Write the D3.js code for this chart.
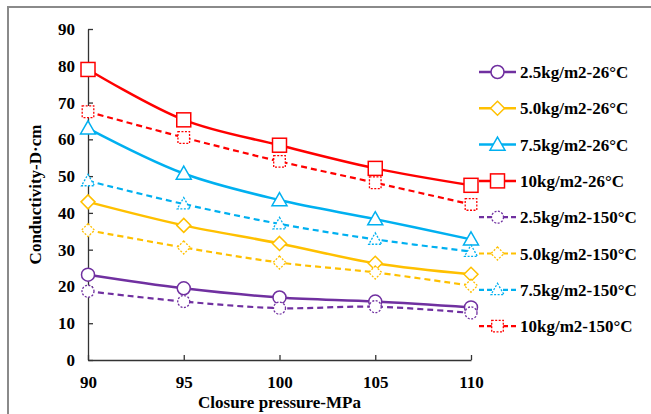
<!DOCTYPE html>
<html>
<head>
<meta charset="utf-8">
<script src="https://cdn.jsdelivr.net/npm/d3@7"></script>
<style>
  body { margin: 0; background: #fff; }
  text { font-family: "Liberation Serif", "Times New Roman", serif; font-weight: bold; fill: #000; }
</style>
</head>
<body>
<div id="chart"></div>
<script>
// closure pressure (MPa)
const pressures = [90, 95, 100, 105, 110];
const yTicks = [0, 10, 20, 30, 40, 50, 60, 70, 80, 90];

// conductivity values (D·cm)
const s25_26  = [23.2, 19.5, 17.0, 15.9, 14.3];
const s50_26  = [43.0, 36.6, 31.7, 26.3, 23.3];
const s75_26  = [63.0, 50.7, 43.5, 38.3, 32.8];
const s10_26  = [79.0, 65.3, 58.4, 52.1, 47.5];
const s25_150 = [18.7, 15.9, 14.1, 14.5, 12.8];
const s50_150 = [35.3, 30.6, 26.5, 23.8, 20.2];
const s75_150 = [48.7, 42.4, 37.0, 32.8, 29.5];
const s10_150 = [67.5, 60.5, 54.0, 48.2, 42.3];

const names = ["2.5kg/m2-26°C", "5.0kg/m2-26°C", "7.5kg/m2-26°C", "10kg/m2-26°C",
               "2.5kg/m2-150°C", "5.0kg/m2-150°C", "7.5kg/m2-150°C", "10kg/m2-150°C"];
const colors = ["#7030A0", "#FFC000", "#00B0F0", "#FF0000"];
const shapes = ["circle", "diamond", "triangle", "square"];

const series = [s25_26, s50_26, s75_26, s10_26, s25_150, s50_150, s75_150, s10_150]
  .map((vals, i) => ({
    name: names[i],
    values: vals,
    color: colors[i % 4],
    shape: shapes[i % 4],
    dashed: i >= 4
  }));

const width = 651, height = 414;
const margin = { top: 29, right: 180, bottom: 54, left: 88 };

const svg = d3.select("#chart").append("svg")
  .attr("width", width)
  .attr("height", height);

// outer frame (top and left edge only, as in the figure)
svg.append("path")
  .attr("d", `M8,${height} L8,7 L${width},7`)
  .attr("fill", "none")
  .attr("stroke", "#8a8a8a")
  .attr("stroke-width", 2);

const x = d3.scaleLinear().domain([90, 110]).range([margin.left, width - margin.right]);
const y = d3.scaleLinear().domain([0, 90]).range([height - margin.bottom, margin.top]);

// axes, ticks pointing inward
const xAxis = svg.append("g")
  .attr("transform", `translate(0,${y(0)})`)
  .call(d3.axisBottom(x).tickValues(pressures).tickSizeInner(-5).tickSizeOuter(0).tickPadding(16));
const yAxis = svg.append("g")
  .attr("transform", `translate(${x(90)},0)`)
  .call(d3.axisLeft(y).tickValues(yTicks).tickSizeInner(-5).tickSizeOuter(0).tickPadding(13));

[xAxis, yAxis].forEach(g => {
  g.select(".domain").attr("stroke", "#333").attr("stroke-width", 1.3);
  g.selectAll(".tick line").attr("stroke", "#333").attr("stroke-width", 1.3);
  g.selectAll(".tick text").style("font-size", "17px").style("font-family", "Liberation Serif").style("font-weight", "bold").attr("fill", "#000");
});

svg.append("text")
  .attr("x", (x(90) + x(110)) / 2)
  .attr("y", 408)
  .attr("text-anchor", "middle")
  .style("font-size", "17px")
  .text("Closure pressure-MPa");

svg.append("text")
  .attr("transform", `translate(41,${(y(0) + y(90)) / 2}) rotate(-90)`)
  .attr("text-anchor", "middle")
  .style("font-size", "17px")
  .text("Conductivity-D·cm");

function marker(g, s, cx, cy) {
  const big = !s.dashed;
  const sw = big ? 1.5 : 1.3;
  const dash = s.dashed ? "2,1.5" : null;
  let el;
  if (s.shape === "circle") {
    el = g.append("circle").attr("cx", cx).attr("cy", cy).attr("r", big ? 6.5 : 6);
  } else if (s.shape === "square") {
    const h = big ? 7 : 5.8;
    el = g.append("rect").attr("x", cx - h).attr("y", cy - h).attr("width", 2 * h).attr("height", 2 * h);
  } else if (s.shape === "diamond") {
    const h = big ? 7 : 6.5;
    el = g.append("path").attr("d", `M${cx},${cy - h}L${cx + h},${cy}L${cx},${cy + h}L${cx - h},${cy}Z`);
  } else {
    const h = big ? 7.5 : 6.5;
    el = g.append("path").attr("d", `M${cx},${cy - h}L${cx + h},${cy + h * 0.75}L${cx - h},${cy + h * 0.75}Z`);
  }
  el.attr("fill", "#fff").attr("stroke", s.color).attr("stroke-width", sw).attr("stroke-dasharray", dash);
}

const line = d3.line()
  .x((d, i) => x(pressures[i]))
  .y(d => y(d))
  .curve(d3.curveCatmullRom.alpha(0.5));

const plot = svg.append("g");
series.forEach(s => {
  plot.append("path")
    .attr("d", line(s.values))
    .attr("fill", "none")
    .attr("stroke", s.color)
    .attr("stroke-width", s.dashed ? 2.2 : 2.5)
    .attr("stroke-dasharray", s.dashed ? "6,4" : null);
});
series.forEach(s => {
  s.values.forEach((v, i) => marker(plot, s, x(pressures[i]), y(v)));
});

// legend
const legend = svg.append("g");
series.forEach((s, i) => {
  const ly = 72 + i * 36.3;
  legend.append("line")
    .attr("x1", 479).attr("x2", 516)
    .attr("y1", ly).attr("y2", ly)
    .attr("stroke", s.color)
    .attr("stroke-width", s.dashed ? 2.2 : 2.5)
    .attr("stroke-dasharray", s.dashed ? "5,3" : null);
  marker(legend, s, 497.5, ly);
  legend.append("text")
    .attr("x", 520)
    .attr("y", ly + 6)
    .style("font-size", "17px")
    .text(s.name);
});
</script>
</body>
</html>
